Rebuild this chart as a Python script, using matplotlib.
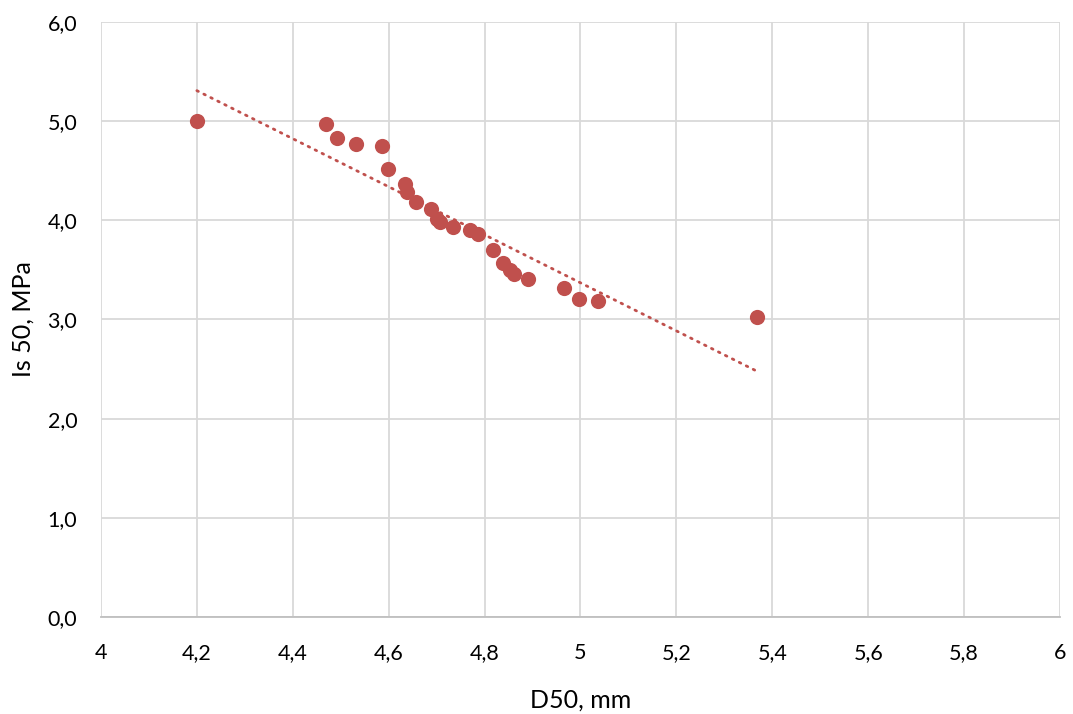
import numpy as np
import matplotlib
matplotlib.use("Agg")
import matplotlib.pyplot as plt
from matplotlib.ticker import FuncFormatter, MultipleLocator

d50 = [4.20, 4.469, 4.492, 4.532, 4.586, 4.599, 4.634, 4.638, 4.657, 4.688,
       4.700, 4.706, 4.734, 4.770, 4.786, 4.817, 4.838, 4.853, 4.861, 4.890,
       4.966, 4.997, 5.036, 5.368]
is50 = [5.00, 4.97, 4.83, 4.77, 4.75, 4.52, 4.37, 4.29, 4.18, 4.11,
        4.01, 3.98, 3.93, 3.90, 3.86, 3.70, 3.57, 3.50, 3.46, 3.41,
        3.32, 3.21, 3.19, 3.02]

plt.rcParams['font.family'] = ['Lato', 'DejaVu Sans']
fig = plt.figure(figsize=(10.73, 7.14), dpi=100)
ax = fig.add_axes([0.0941, 0.1359, 0.8938, 0.8333])

color = '#C0504D'
ax.scatter(d50, is50, s=120, color=color, zorder=3, linewidths=0)

x = np.array(d50)
y = np.array(is50)
k, b = np.polyfit(x, y, 1)
xs = np.array([x.min(), x.max()])
ax.plot(xs, k * xs + b, color=color, lw=2.0, linestyle=(0, (0.6, 2.2)),
        dash_capstyle='round', zorder=2)

ax.set_xlim(4, 6)
ax.set_ylim(0, 6)
ax.xaxis.set_major_locator(MultipleLocator(0.2))
ax.yaxis.set_major_locator(MultipleLocator(1.0))

def fx(v, p):
    s = ('%.1f' % v).rstrip('0').rstrip('.')
    return s.replace('.', ',')
ax.xaxis.set_major_formatter(FuncFormatter(fx))
ax.yaxis.set_major_formatter(FuncFormatter(lambda v, p: ('%.1f' % v).replace('.', ',')))

ax.grid(True, color='#D9D9D9', lw=1.3)
ax.set_axisbelow(True)
for s in ['top', 'right', 'left']:
    ax.spines[s].set_visible(False)
ax.spines['bottom'].set_color('#BFBFBF')
ax.spines['bottom'].set_linewidth(1.3)
ax.tick_params(length=0, labelsize=15.5)
ax.tick_params(axis='x', pad=19)
ax.tick_params(axis='y', pad=17)

ax.set_xlabel('D50, mm', fontsize=18, labelpad=18)
ax.set_ylabel('Is 50, MPa', fontsize=18)
ax.yaxis.set_label_coords(-0.069, 0.5)

fig.savefig('out.png', dpi=100)
